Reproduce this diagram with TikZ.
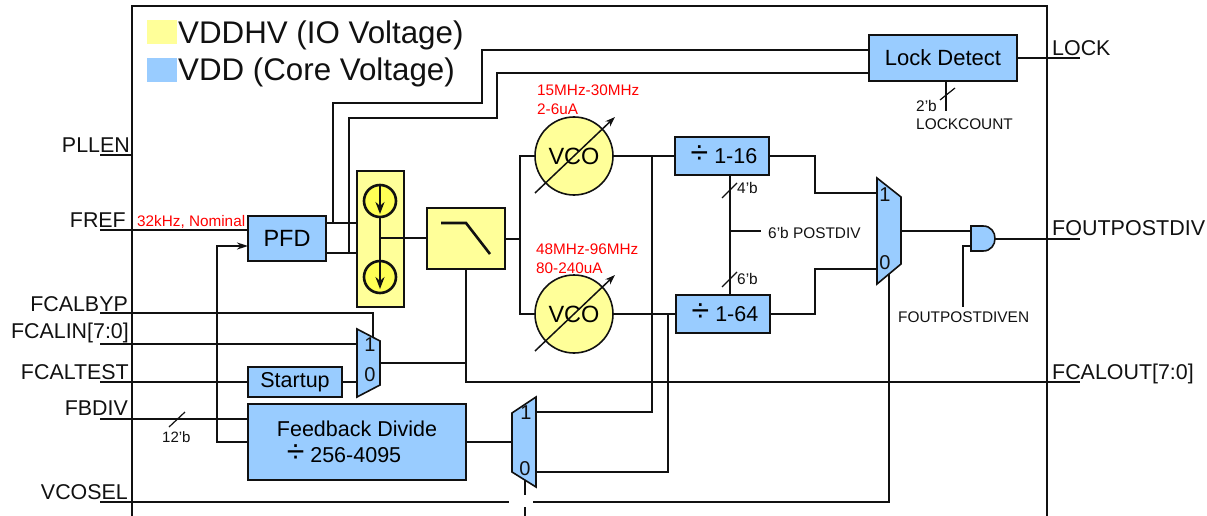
\documentclass[tikz,border=0pt]{standalone}
\usepackage{fontspec}
\setmainfont{Liberation Sans}
\usetikzlibrary{arrows.meta}
\definecolor{corefill}{HTML}{99CCFF}
\definecolor{iofill}{HTML}{FFFF99}
\definecolor{pumpfill}{HTML}{FFFF55}
\definecolor{inkline}{HTML}{111111}
\newcommand{\divmark}{\smash{\fontsize{32}{32}\selectfont ÷}}
\tikzset{
  wire/.style = {draw = inkline, line width = 2pt},
  busline/.style = {draw = inkline, line width = 2.6pt},
  slash/.style = {draw = inkline, line width = 1.2pt},
  corebox/.style = {draw = inkline, line width = 2.2pt, fill = corefill, inner sep = 0pt, outer sep = 0pt, font = \fontsize{21.5}{24}\selectfont, align = center},
  iobox/.style = {draw = inkline, line width = 2.2pt, fill = iofill, inner sep = 0pt, outer sep = 0pt},
  vcocircle/.style = {draw = inkline, line width = 1.6pt, fill = iofill, circle, minimum size = 78pt, inner sep = 0pt, outer sep = 0pt, font = \fontsize{23.5}{24}\selectfont},
  pumpcircle/.style = {draw = inkline, line width = 2.6pt, fill = pumpfill, circle, minimum size = 32pt, inner sep = 0pt, outer sep = 0pt},
  muxshape/.style = {draw = inkline, line width = 1.6pt, fill = corefill},
  pinlabel/.style = {inner sep = 0pt, text = inkline, font = \fontsize{21.4}{24}\selectfont},
  redlabel/.style = {inner sep = 0pt, text = red, font = \fontsize{15.3}{18}\selectfont},
  smalllabel/.style = {inner sep = 0pt, text = inkline, font = \fontsize{15.4}{18}\selectfont},
  muxlabel/.style = {inner sep = 0pt, text = inkline, font = \fontsize{20}{20}\selectfont},
  legendlabel/.style = {inner sep = 0pt, text = inkline, font = \fontsize{31.3}{32}\selectfont}
}
\begin{document}
\begin{tikzpicture}[x = 1pt, y = -1pt]
\useasboundingbox (0,0) rectangle (1207,516);
\draw[busline] (132,516) -- (132,6) -- (1047,6) -- (1047,516);

\node[fill = iofill, minimum width = 30pt, minimum height = 24pt, inner sep = 0pt, anchor = north west] (legendio) at (147,20) {};
\node[fill = corefill, minimum width = 30pt, minimum height = 24pt, inner sep = 0pt, anchor = north west] (legendcore) at (147,58) {};
\node[legendlabel, anchor = base west] (legendiotext) at (178,44) {VDDHV (IO Voltage)};
\node[legendlabel, anchor = base west] (legendcoretext) at (178,81) {VDD (Core Voltage)};

% blocks
\node[corebox, minimum width = 78pt, minimum height = 45pt, anchor = north west, font = \fontsize{23.5}{24}\selectfont] (pfd) at (248,216) {PFD};
\node[corebox, minimum width = 148pt, minimum height = 46pt, anchor = north west, font = \fontsize{22}{24}\selectfont] (lockdetect) at (869,35) {Lock Detect};
\node[corebox, minimum width = 94pt, minimum height = 30pt, anchor = north west] (startup) at (248,367) {Startup};
\node[corebox, minimum width = 218pt, minimum height = 76pt, anchor = north west] (fbdivide) at (248,404) {Feedback Divide\\[2pt]\divmark\ 256-4095\hspace*{26pt}};
\node[corebox, minimum width = 94pt, minimum height = 38pt, anchor = north west] (divhigh) at (675,137) {\hspace*{4pt}\divmark\ 1-16};
\node[corebox, minimum width = 94pt, minimum height = 38pt, anchor = north west] (divlow) at (676,295) {\hspace*{4pt}\divmark\ 1-64};
\node[iobox, minimum width = 47pt, minimum height = 136pt, anchor = north west] (pump) at (357,171) {};
\node[iobox, minimum width = 78pt, minimum height = 61pt, anchor = north west] (filter) at (427,208) {};
\node[vcocircle] (vcohigh) at (574,156) {VCO};
\node[vcocircle] (vcolow) at (574,314) {VCO};
\node[pumpcircle] (pumpup) at (380,201) {};
\node[pumpcircle] (pumpdown) at (380,277) {};

% muxes and gate
\draw[muxshape] (357,329) -- (380,341) -- (380,385) -- (357,397) -- cycle;
\draw[muxshape] (512,413) -- (536,397) -- (536,487) -- (512,472) -- cycle;
\draw[muxshape] (877,178) -- (901,197) -- (901,264) -- (877,284) -- cycle;
\draw[muxshape] (971,226) -- (983,226) .. controls (999,226) and (999,251) .. (983,251) -- (971,251) -- cycle;
\node[muxlabel] (muxatop) at (370,345) {1};
\node[muxlabel] (muxabottom) at (370,375) {0};
\node[muxlabel] (muxbtop) at (526,413) {1};
\node[muxlabel] (muxbbottom) at (525,469) {0};
\node[muxlabel] (muxctop) at (885,195) {1};
\node[muxlabel] (muxcbottom) at (885,263) {0};

% pins
\coordinate (pllenpin) at (100,155);
\coordinate (frefpin) at (100,230);
\coordinate (fcalbyppin) at (100,313);
\coordinate (fcalinpin) at (100,344);
\coordinate (fcaltestpin) at (100,382);
\coordinate (fbdivpin) at (100,419);
\coordinate (vcoselpin) at (100,502);
\coordinate (lockpin) at (1080,58);
\coordinate (foutpin) at (1080,238.5);
\coordinate (fcaloutpin) at (1080,382);
\coordinate (muxaselect) at (373,337);
\coordinate (muxain) at (357,344);
\coordinate (muxaout) at (380,363);
\coordinate (muxbin) at (512,442);
\coordinate (muxbone) at (536,412);
\coordinate (muxbzero) at (536,472);
\coordinate (muxcone) at (877,193);
\coordinate (muxczero) at (877,269);
\coordinate (muxcout) at (901,231);
\coordinate (muxcselect) at (889,274);
\coordinate (andin) at (971,231);
\coordinate (anden) at (971,246);
\coordinate (andout) at (995,238.5);
\coordinate (pfdupper) at (326,223);
\coordinate (pfdlower) at (326,253);
\coordinate (pumpout) at (380,238);

\node[pinlabel, anchor = base east] (pllenlabel) at (130,153) {PLLEN};
\node[pinlabel, anchor = base east] (freflabel) at (126,227) {FREF};
\node[pinlabel, anchor = base east] (fcalbyplabel) at (128,311) {FCALBYP};
\node[pinlabel, anchor = base east] (fcalinlabel) at (129,338) {FCALIN[7:0]};
\node[pinlabel, anchor = base east] (fcaltestlabel) at (129,379) {FCALTEST};
\node[pinlabel, anchor = base east] (fbdivlabel) at (128,415) {FBDIV};
\node[pinlabel, anchor = base east] (vcosellabel) at (128,499) {VCOSEL};
\node[pinlabel, anchor = base west] (locklabel) at (1052,56) {LOCK};
\node[pinlabel, anchor = base west, font = \fontsize{21.5}{24}\selectfont] (foutlabel) at (1052,235) {FOUTPOSTDIV};
\node[pinlabel, anchor = base west] (fcaloutlabel) at (1052,379) {FCALOUT[7:0]};

% wires
\draw[busline] (pllenpin) -- (132,155);
\draw[wire] (frefpin) -- (frefpin -| pfd.west);
\draw[wire] (fcalbyppin) -- (muxaselect |- fcalbyppin) -- (muxaselect);
\draw[busline] (fcalinpin) -- (muxain);
\draw[wire] (fcaltestpin) -- (fcaltestpin -| startup.west);
\draw[wire] (startup.east) -- (357,382);
\draw[wire] (fbdivpin) -- (fbdivpin -| fbdivide.west);
\draw[wire] (vcoselpin) -- (509,502);
\draw[busline] (533,502) -- (889,502) -- (muxcselect);
\draw[wire] (525,480) -- (525,495);
\draw[wire] (525,507) -- (525,516);
\draw[busline] (lockdetect.east) -- (lockpin);
\draw[wire] (andout) -- (foutpin);
\draw[wire] (muxaout) -- (466,363);
\draw[wire] (filter.south -| 466,0) -- (466,382) -- (fcaloutpin);
\draw[busline, -{Stealth[length = 11pt, width = 7pt]}] (fbdivide.west |- 0,442) -- (217,442) -- (217,246) -- (pfd.west |- 0,246);
\draw[busline] (fbdivide.east |- muxbin) -- (muxbin);
\draw[wire] (pfdupper) -- (pfdupper -| pump.west);
\draw[wire] (pfdlower) -- (pfdlower -| pump.west);
\draw[busline] (333,223) -- (333,103) -- (482,103) -- (482,50) -- (lockdetect.west |- 0,50);
\draw[busline] (349,253) -- (349,118) -- (497,118) -- (497,73) -- (lockdetect.west |- 0,73);
\draw[wire] (pumpout) -- (pumpout -| filter.west);
\draw[wire] (filter.east) -- (520,238.5);
\draw[busline] (vcohigh.west) -- (520,156) -- (520,314) -- (vcolow.west);
\draw[wire] (vcohigh.east) -- (divhigh.west);
\draw[wire] (vcolow.east) -- (vcolow.east -| divlow.west);
\draw[busline] (652,156) -- (652,412) -- (muxbone);
\draw[wire] (668,314) -- (668,472) -- (muxbzero);
\draw[busline] (divhigh.east) -- (815,156) -- (815,193) -- (muxcone);
\draw[busline] (divlow.east) -- (815,314) -- (815,269) -- (muxczero);
\draw[wire] (muxcout) -- (andin);
\draw[busline] (anden) -- (963,246) -- (963,307);
\draw[busline] (divhigh.south -| 730,0) -- (divlow.north -| 730,0);
\draw[wire] (730,231) -- (761,231);
\draw[busline] (lockdetect.south -| 946,0) -- (946,111);

% pump and filter details
\draw[busline, -{Stealth[length = 12pt, width = 9pt]}] (pumpup.north) -- (380,214);
\draw[busline, -{Stealth[length = 12pt, width = 9pt]}] (pumpup.south) -- (380,289);
\draw[wire] (380,238) -- (404,238);
\draw[busline] (441,223) -- (466,223) -- (490,254);
\draw[wire, line width = 1.5pt, -{Stealth[length = 10pt, width = 7pt]}] (535,193) -- (615,117);
\draw[wire, line width = 1.5pt, -{Stealth[length = 10pt, width = 7pt]}] (535,351) -- (615,275);

% bus slashes
\draw[slash] (169,427) -- (185,412);
\draw[slash] (940,100) -- (955,88);
\draw[slash] (722,198) -- (737,183);
\draw[slash] (722,287) -- (737,272);

% small texts
\node[redlabel, anchor = west] (freqref) at (137,222) {32kHz, Nominal};
\node[redlabel, anchor = north west, align = left] (freqhigh) at (537,85) {15MHz-30MHz\\[1pt]2-6uA};
\node[redlabel, anchor = north west, align = left] (freqlow) at (536,244) {48MHz-96MHz\\[1pt]80-240uA};
\node[smalllabel, anchor = west, font = \fontsize{15}{18}\selectfont] (fbwidth) at (162,437) {12'b};
\node[smalllabel, anchor = west] (lockwidth) at (916,106) {2'b};
\node[smalllabel, anchor = west] (lockcount) at (916,124) {LOCKCOUNT};
\node[smalllabel, anchor = west] (highwidth) at (737,188) {4'b};
\node[smalllabel, anchor = west] (lowwidth) at (737,279) {6'b};
\node[smalllabel, anchor = west] (postdiv) at (768,233) {6'b POSTDIV};
\node[smalllabel, anchor = west] (foutenable) at (898,317) {FOUTPOSTDIVEN};
\end{tikzpicture}
\end{document}
